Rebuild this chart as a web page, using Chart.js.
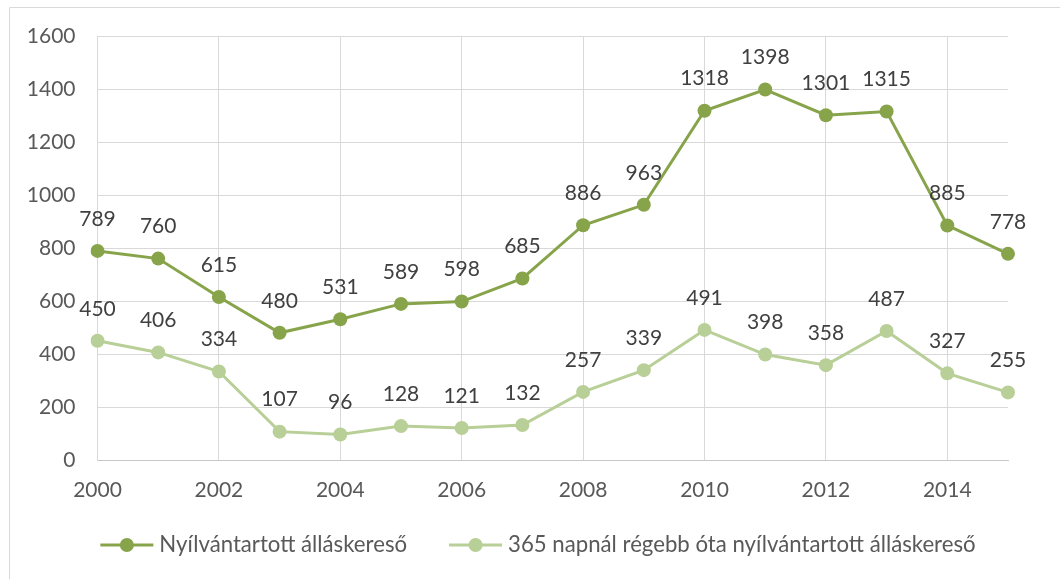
<!DOCTYPE html>
<html>
<head>
<meta charset="utf-8">
<script src="https://cdn.jsdelivr.net/npm/chart.js@4/dist/chart.umd.min.js"></script>
<style>
  html, body { margin: 0; padding: 0; background: #fff; }
  #wrap { width: 1060px; height: 579px; position: relative; }
</style>
</head>
<body>
<div id="wrap"><canvas id="chart"></canvas></div>
<script>
// chart data
const years = ['2000', '2001', '2002', '2003', '2004', '2005', '2006', '2007',
               '2008', '2009', '2010', '2011', '2012', '2013', '2014', '2015'];
const registered = [789, 760, 615, 480, 531, 589, 598, 685, 886, 963, 1318, 1398, 1301, 1315, 885, 778];
const longTerm = [450, 406, 334, 107, 96, 128, 121, 132, 257, 339, 491, 398, 358, 487, 327, 255];
const seriesNames = ['Nyílvántartott álláskereső', '365 napnál régebb óta nyílvántartott álláskereső'];

const darkGreen = '#87a44b';
const lightGreen = '#b8cf97';
const axisText = '#595959';
const labelText = '#404040';
const gridColor = '#d9d9d9';
const fontFamily = 'Lato, "Open Sans", sans-serif';
const fontSize = 21;
const legendFontSize = 22.2;

// frame around the chart (only top and left edges are visible)
const framePlugin = {
    id: 'frame',
    beforeDraw(chart) {
        const c = chart.ctx;
        c.save();
        c.strokeStyle = gridColor;
        c.lineWidth = 1;
        c.beginPath();
        c.moveTo(9.5, chart.height);
        c.lineTo(9.5, 7.5);
        c.lineTo(chart.width, 7.5);
        c.stroke();
        c.restore();
    }
};

// value labels above every point
const valueLabels = {
    id: 'valueLabels',
    afterDatasetsDraw(chart) {
        const c = chart.ctx;
        c.save();
        c.font = fontSize + 'px ' + fontFamily;
        c.fillStyle = labelText;
        c.textAlign = 'center';
        c.textBaseline = 'middle';
        chart.data.datasets.forEach((ds, i) => {
            chart.getDatasetMeta(i).data.forEach((pt, j) => {
                c.fillText(String(ds.data[j]), pt.x, pt.y - 32);
            });
        });
        c.restore();
    }
};

// legend with line + marker, like the office style
const lineLegend = {
    id: 'lineLegend',
    afterDraw(chart) {
        const c = chart.ctx;
        const lineLen = 53, textGap = 6, itemGap = 42, y = 545;
        c.save();
        c.font = legendFontSize + 'px ' + fontFamily;
        const widths = chart.data.datasets.map(ds => lineLen + textGap + c.measureText(ds.label).width);
        const total = widths.reduce((a, b) => a + b, 0) + itemGap * (widths.length - 1);
        let x = 538 - total / 2;
        chart.data.datasets.forEach((ds, i) => {
            c.strokeStyle = ds.borderColor;
            c.lineWidth = 3;
            c.beginPath();
            c.moveTo(x, y);
            c.lineTo(x + lineLen, y);
            c.stroke();
            c.fillStyle = ds.borderColor;
            c.beginPath();
            c.arc(x + lineLen / 2, y, 7, 0, Math.PI * 2);
            c.fill();
            c.fillStyle = axisText;
            c.textAlign = 'left';
            c.textBaseline = 'middle';
            c.fillText(ds.label, x + lineLen + textGap, y);
            x += widths[i] + itemGap;
        });
        c.restore();
    }
};

new Chart(document.getElementById('chart'), {
    type: 'line',
    data: {
        labels: years,
        datasets: [{
            label: seriesNames[0],
            data: registered,
            borderColor: darkGreen,
            backgroundColor: darkGreen,
            borderWidth: 3,
            pointRadius: 7,
            pointBorderWidth: 0,
            pointBackgroundColor: darkGreen,
            tension: 0
        }, {
            label: seriesNames[1],
            data: longTerm,
            borderColor: lightGreen,
            backgroundColor: lightGreen,
            borderWidth: 3,
            pointRadius: 7,
            pointBorderWidth: 0,
            pointBackgroundColor: lightGreen,
            tension: 0
        }]
    },
    options: {
        responsive: true,
        maintainAspectRatio: false,
        animation: false,
        layout: { padding: { top: 36, right: 52, left: 0, bottom: 0 } },
        plugins: {
            legend: { display: false },
            tooltip: { enabled: false }
        },
        scales: {
            x: {
                offset: false,
                grid: {
                    color: ctx => (ctx.index % 2 === 0 ? gridColor : 'rgba(0,0,0,0)'),
                    drawTicks: false
                },
                border: { color: '#c8c8c8', width: 1 },
                ticks: {
                    autoSkip: false,
                    maxRotation: 0,
                    padding: 18,
                    color: axisText,
                    font: { family: fontFamily, size: fontSize },
                    callback: function(value, index) {
                        return index % 2 === 0 ? this.getLabelForValue(value) : '';
                    }
                },
                afterFit(scale) { scale.height = 119; }
            },
            y: {
                min: 0,
                max: 1600,
                grid: { color: gridColor, drawTicks: false },
                border: { color: gridColor, width: 1 },
                ticks: {
                    stepSize: 200,
                    padding: 22,
                    color: axisText,
                    font: { family: fontFamily, size: fontSize },
                    callback: value => String(value)
                },
                afterFit(scale) { scale.width = 97.5; }
            }
        }
    },
    plugins: [framePlugin, valueLabels, lineLegend]
});
</script>
</body>
</html>
